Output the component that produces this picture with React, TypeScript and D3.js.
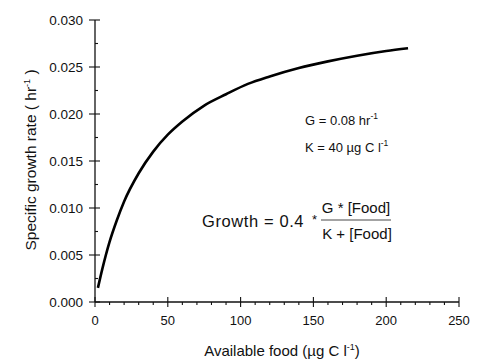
import React, { useEffect, useRef } from 'react';
import * as d3 from 'd3';

// values
const food = [2, 5, 10, 15, 20, 30, 40, 50, 60, 75, 90, 105, 120, 140, 160, 180, 200, 215];
const growth = [0.0015, 0.0035, 0.0064, 0.0087, 0.0107, 0.0137, 0.016, 0.0178, 0.0192, 0.0209, 0.0221, 0.0232, 0.024, 0.0249, 0.0256, 0.0262, 0.0267, 0.027];

const xTicks = [0, 50, 100, 150, 200, 250];
const yTicks = [0, 0.005, 0.01, 0.015, 0.02, 0.025, 0.03];

const width = 483;
const height = 363;
const font = 'Arial, "Liberation Sans", Helvetica, sans-serif';
const ink = '#111';

const App = () => {
  const ref = useRef<SVGSVGElement>(null);

  useEffect(() => {
    const margin = { top: 20, right: 24, bottom: 61, left: 95 };
    const innerWidth = width - margin.left - margin.right;
    const innerHeight = height - margin.top - margin.bottom;

    const svg = d3.select(ref.current);
    svg.selectAll('*').remove();

    const g = svg.append('g').attr('transform', `translate(${margin.left},${margin.top})`);

    const x = d3.scaleLinear().domain([0, 250]).range([0, innerWidth]);
    const y = d3.scaleLinear().domain([0, 0.03]).range([innerHeight, 0]);

    // axis lines
    g.append('line').attr('x1', 0).attr('x2', innerWidth).attr('y1', innerHeight).attr('y2', innerHeight)
      .attr('stroke', ink).attr('stroke-width', 1.3);
    g.append('line').attr('x1', 0).attr('x2', 0).attr('y1', 0).attr('y2', innerHeight)
      .attr('stroke', ink).attr('stroke-width', 1.3);

    // x ticks: minor every 10, major every 50
    d3.range(0, 251, 10).forEach(v => {
      const major = v % 50 === 0;
      g.append('line')
        .attr('x1', x(v)).attr('x2', x(v))
        .attr('y1', innerHeight - (major ? 5 : 0)).attr('y2', innerHeight + (major ? 5 : 3))
        .attr('stroke', ink).attr('stroke-width', 1.1);
    });
    g.selectAll('.xlab').data(xTicks).enter().append('text')
      .attr('x', d => x(d)).attr('y', innerHeight + 23)
      .attr('text-anchor', 'middle').attr('font-size', 13).attr('font-family', font).attr('fill', ink)
      .text(d => String(d));

    // y ticks: minor every 0.0025, major every 0.005
    d3.range(0, 13).forEach(i => {
      const v = i * 0.0025;
      const major = i % 2 === 0;
      g.append('line')
        .attr('x1', major ? -6 : 0).attr('x2', major ? 5 : 3)
        .attr('y1', y(v)).attr('y2', y(v))
        .attr('stroke', ink).attr('stroke-width', 1.1);
    });
    g.selectAll('.ylab').data(yTicks).enter().append('text')
      .attr('x', -12).attr('y', d => y(d)).attr('dy', '0.35em')
      .attr('text-anchor', 'end').attr('font-size', 13.5).attr('font-family', font).attr('fill', ink)
      .text(d => d3.format('.3f')(d));

    // curve
    const line = d3.line<number>()
      .x((d, i) => x(food[i]))
      .y(d => y(d))
      .curve(d3.curveMonotoneX);
    g.append('path').datum(growth)
      .attr('fill', 'none').attr('stroke', '#000').attr('stroke-width', 2.6)
      .attr('d', line);

    // axis titles
    const xt = svg.append('text').attr('x', 282).attr('y', 356)
      .attr('text-anchor', 'middle').attr('font-size', 15).attr('font-family', font).attr('fill', ink);
    xt.append('tspan').text('Available food (µg C l');
    xt.append('tspan').attr('font-size', 9).attr('dy', -6).text('-1');
    xt.append('tspan').attr('dy', 6).text(')');

    const yt = svg.append('text').attr('transform', 'translate(36,160) rotate(-90)')
      .attr('text-anchor', 'middle').attr('font-size', 15.5).attr('font-family', font).attr('fill', ink);
    yt.append('tspan').text('Specific growth rate ( hr');
    yt.append('tspan').attr('font-size', 9).attr('dy', -6).text('-1');
    yt.append('tspan').attr('dy', 6).text(' )');

    // annotations
    const a1 = svg.append('text').attr('x', 305).attr('y', 125)
      .attr('font-size', 13).attr('font-family', font).attr('fill', ink);
    a1.append('tspan').text('G = 0.08 hr');
    a1.append('tspan').attr('font-size', 8.5).attr('dy', -6).text('-1');

    const a2 = svg.append('text').attr('x', 305).attr('y', 152)
      .attr('font-size', 13).attr('font-family', font).attr('fill', ink);
    a2.append('tspan').text('K = 40 µg C l');
    a2.append('tspan').attr('font-size', 8.5).attr('dy', -6).text('-1');

    svg.append('text').attr('x', 202).attr('y', 227)
      .attr('font-size', 16.5).attr('letter-spacing', 0.6).attr('font-family', font).attr('fill', ink)
      .text('Growth = 0.4');
    svg.append('text').attr('x', 312).attr('y', 224)
      .attr('font-size', 13).attr('font-family', font).attr('fill', ink)
      .text('*');
    svg.append('text').attr('x', 356).attr('y', 213).attr('text-anchor', 'middle')
      .attr('font-size', 15).attr('font-family', font).attr('fill', ink)
      .text('G * [Food]');
    svg.append('line').attr('x1', 321).attr('x2', 391).attr('y1', 220).attr('y2', 220)
      .attr('stroke', '#333').attr('stroke-width', 0.9);
    svg.append('text').attr('x', 357).attr('y', 239).attr('text-anchor', 'middle')
      .attr('font-size', 15).attr('font-family', font).attr('fill', ink)
      .text('K + [Food]');
  }, []);

  return (
    <svg ref={ref} width={width} height={height}
      style={{ position: 'absolute', left: 0, top: 0, background: '#fff' }} />
  );
};

export default App;
